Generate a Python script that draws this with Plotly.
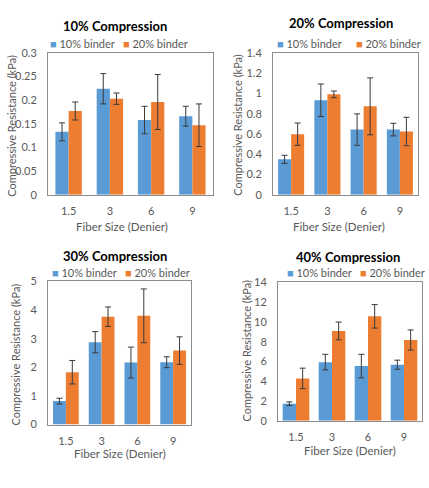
import plotly.graph_objects as go

W, H = 429, 488

categories = ["1.5", "3", "6", "9"]
series_names = ["10% binder", "20% binder"]

titles = ["10% Compression", "20% Compression", "30% Compression", "40% Compression"]

# 10% compression
c10_b10 = [0.133, 0.224, 0.158, 0.166]
c10_b10_err = [0.019, 0.032, 0.029, 0.021]
c10_b20 = [0.177, 0.203, 0.196, 0.147]
c10_b20_err = [0.019, 0.012, 0.058, 0.045]

# 20% compression
c20_b10 = [0.35, 0.932, 0.643, 0.643]
c20_b10_err = [0.04, 0.16, 0.155, 0.062]
c20_b20 = [0.598, 0.99, 0.872, 0.624]
c20_b20_err = [0.11, 0.033, 0.28, 0.14]

# 30% compression
c30_b10 = [0.82, 2.878, 2.167, 2.178]
c30_b10_err = [0.1, 0.37, 0.54, 0.19]
c30_b20 = [1.83, 3.77, 3.80, 2.585]
c30_b20_err = [0.41, 0.34, 0.94, 0.48]

# 40% compression
c40_b10 = [1.72, 5.93, 5.53, 5.67]
c40_b10_err = [0.18, 0.79, 1.19, 0.46]
c40_b20 = [4.28, 9.09, 10.57, 8.17]
c40_b20_err = [1.04, 0.9, 1.19, 1.02]

y_ranges = [[0, 0.3], [0, 1.4], [0, 5], [0, 14]]
y_dticks = [0.05, 0.2, 1, 2]

panels = [
    (c10_b10, c10_b10_err, c10_b20, c10_b20_err),
    (c20_b10, c20_b10_err, c20_b20, c20_b20_err),
    (c30_b10, c30_b10_err, c30_b20, c30_b20_err),
    (c40_b10, c40_b10_err, c40_b20, c40_b20_err),
]

BLUE = "#5B9BD5"
ORANGE = "#ED7D31"
FONT = "Lato"
TXT = "#595959"
FRAME = "#8C8C8C"

# plot-area boxes in pixels: (left, right, top, bottom)
boxes = [(48, 213, 47, 193), (273, 418, 47, 193), (48, 191, 282, 429), (278, 422, 283, 425)]
bar_w = [0.32, 0.36, 0.36, 0.37]

def px(x):
    return x / W

def py(y):
    return 1 - y / H

fig = go.Figure()
layout = dict(
    width=W, height=H, margin=dict(l=0, r=0, t=0, b=0),
    paper_bgcolor="white", plot_bgcolor="white",
    barmode="group", showlegend=False,
    font=dict(family=FONT, size=11, color=TXT),
)
annotations = []

for i, (b10, e10, b20, e20) in enumerate(panels):
    k = "" if i == 0 else str(i + 1)
    xa, ya = "x" + k, "y" + k
    w = bar_w[i]
    for vals, errs, name, col, off in [(b10, e10, series_names[0], BLUE, -w),
                                      (b20, e20, series_names[1], ORANGE, 0)]:
        fig.add_trace(go.Bar(
            x=categories, y=vals, name=name, marker=dict(color=col, line=dict(width=0)),
            width=w, offset=off,
            error_y=dict(type="data", array=errs, visible=True, color="#3A3A3A",
                         thickness=1, width=3),
            xaxis=xa, yaxis=ya,
        ))
    l, r, t, b = boxes[i]
    layout["xaxis" + k] = dict(
        domain=[px(l), px(r)], anchor=ya, type="category",
        showline=True, mirror=True, linecolor=FRAME, linewidth=1,
        ticks="", showgrid=False, ticklabelstandoff=6,
        tickfont=dict(family=FONT, size=11, color=TXT), fixedrange=True,
    )
    layout["yaxis" + k] = dict(
        domain=[py(b), py(t)], anchor=xa, range=y_ranges[i], dtick=y_dticks[i],
        tick0=0, showline=True, mirror=True, linecolor=FRAME, linewidth=1,
        ticks="", showgrid=False, zeroline=False, ticklabelstandoff=8,
        tickfont=dict(family=FONT, size=11, color=TXT), fixedrange=True,
    )

# titles
title_pos = [(115, 20), (341, 16), (115, 256), (348, 257)]
for (x, y), t in zip(title_pos, titles):
    annotations.append(dict(x=px(x), y=py(y), xref="paper", yref="paper", text="<b>" + t + "</b>",
                            showarrow=False, xanchor="center", yanchor="middle",
                            font=dict(family=FONT, size=13, color="#000000")))

# legends
leg_pos = [(50, 123, 38), (277, 356, 38), (52, 125, 273), (287, 360, 273)]
for (xb, xo, y) in leg_pos:
    for x, col, name in [(xb, BLUE, series_names[0]), (xo, ORANGE, series_names[1])]:
        annotations.append(dict(x=px(x - 2), y=py(y), xref="paper", yref="paper",
                                text='<span style="color:%s;font-size:11px">■</span> %s' % (col, name),
                                showarrow=False, xanchor="left", yanchor="middle",
                                font=dict(family=FONT, size=11, color=TXT)))

# x axis titles
xt_pos = [(122, 225), (339, 225), (120, 459), (350, 456)]
for (x, y) in xt_pos:
    annotations.append(dict(x=px(x), y=py(y), xref="paper", yref="paper", text="Fiber Size (Denier)",
                            showarrow=False, xanchor="center", yanchor="middle",
                            font=dict(family=FONT, size=11.5, color=TXT)))

# y axis titles
yt_pos = [(12, 122), (238, 121), (15, 357), (247, 353)]
for (x, y) in yt_pos:
    annotations.append(dict(x=px(x), y=py(y), xref="paper", yref="paper",
                            text="Compressive Resistance (kPa)", textangle=-90,
                            showarrow=False, xanchor="center", yanchor="middle",
                            font=dict(family=FONT, size=11, color=TXT)))

layout["annotations"] = annotations
fig.update_layout(**layout)
fig.write_html("out.html")
